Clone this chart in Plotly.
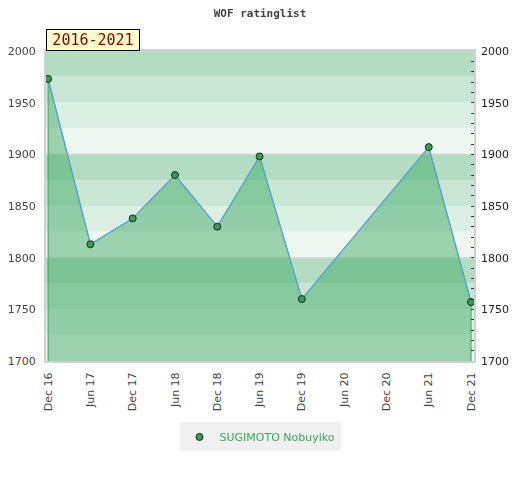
import plotly.graph_objects as go

# WOF ratinglist for one player, half-year steps
months = ['Dec 16', 'Jun 17', 'Dec 17', 'Jun 18', 'Dec 18', 'Jun 19',
          'Dec 19', 'Jun 20', 'Dec 20', 'Jun 21', 'Dec 21']
rated = ['Dec 16', 'Jun 17', 'Dec 17', 'Jun 18', 'Dec 18', 'Jun 19',
         'Dec 19', 'Jun 21', 'Dec 21']
rating = [1973, 1813, 1838, 1880, 1830, 1898, 1760, 1907, 1757]
player = 'SUGIMOTO Nobuyiko'
period = '2016-2021'

y_min, y_max = 1700, 2000
band_colors = ['#b3dcc2', '#c8e6d3', '#dcefe3', '#eef7f1']

fig = go.Figure()

# filled area, closed down to the baseline at both ends
fig.add_trace(go.Scatter(
    x=[rated[0]] + rated + [rated[-1]],
    y=[0] + rating + [0],
    mode='lines',
    fill='toself',
    fillcolor='rgba(57,168,98,0.46)',
    line=dict(color='#3aa757', width=1),
    hoverinfo='skip',
    showlegend=False,
))
fig.add_trace(go.Scatter(
    x=rated, y=rating, mode='lines',
    line=dict(color='#5aa3dc', width=1.2),
    hoverinfo='skip', showlegend=False,
))
fig.add_trace(go.Scatter(
    x=rated, y=rating, mode='markers', name=player,
    marker=dict(color='#3a9a5a', size=7, line=dict(color='#1a2a1a', width=1)),
))
# invisible copy so the right axis gets drawn
fig.add_trace(go.Scatter(
    x=rated, y=rating, mode='markers', yaxis='y2', opacity=0,
    hoverinfo='skip', showlegend=False,
))

# striped background, 25 points per band
shapes = []
for i, lo in enumerate(range(y_max - 25, y_min - 1, -25)):
    shapes.append(dict(type='rect', xref='paper', yref='y', layer='below',
                       x0=0, x1=1, y0=lo, y1=lo + 25,
                       fillcolor=band_colors[i % 4], line=dict(width=0)))
for v in range(y_min + 100, y_max, 100):
    shapes.append(dict(type='line', xref='paper', yref='y', layer='below',
                       x0=0, x1=1, y0=v, y1=v,
                       line=dict(color='#d8d8d8', width=1.5)))

tick_font = dict(family='DejaVu Sans', size=11, color='#444')

fig.update_layout(
    width=504, height=464,
    margin=dict(l=38, r=38, t=43, b=111),
    paper_bgcolor='white', plot_bgcolor='white',
    shapes=shapes,
    title=dict(text='<b>WOF ratinglist</b>', x=0.5, xanchor='center',
               y=1 - 5 / 464, yanchor='middle',
               font=dict(family='DejaVu Sans Mono', size=11, color='#444')),
    xaxis=dict(type='category', categoryorder='array', categoryarray=months,
               tickvals=months, ticktext=months, range=[-0.05, 10.07],
               tickangle=-90, tickfont=tick_font, showgrid=False,
               ticklabelstandoff=5,
               showline=True, linecolor='#d0d0d0', linewidth=2, mirror=True,
               ticks='', zeroline=False, automargin=False),
    yaxis=dict(range=[y_min, y_max], dtick=50, tickfont=tick_font,
               showgrid=False, zeroline=False, ticks='', automargin=False,
               ticklabelstandoff=6,
               showline=True, linecolor='#d0d0d0', linewidth=2, mirror=True),
    yaxis2=dict(range=[y_min, y_max], dtick=50, overlaying='y', side='right',
                tickfont=dict(family='DejaVu Sans', size=11, color='#222'),
                showgrid=False, zeroline=False, automargin=False,
                ticklabelstandoff=6,
                ticks='inside', ticklen=3, tickcolor='#333',
                minor=dict(dtick=10, ticks='inside', ticklen=3, tickcolor='#333')),
    legend=dict(orientation='h', x=0.5, xanchor='center', y=-0.245,
                yanchor='middle', bgcolor='#f0f0f0', itemwidth=30,
                font=dict(family='DejaVu Sans', size=11, color='#3aa757')),
    annotations=[dict(text=period, xref='paper', yref='paper', x=0, y=1,
                      xanchor='left', yanchor='bottom', showarrow=False,
                      width=88, height=16, align='center',
                      bgcolor='#ffffcc', bordercolor='black', borderwidth=1,
                      borderpad=2,
                      font=dict(family='DejaVu Sans Mono', size=15, color='#8b0000'))],
)

fig.write_html('out.html')
